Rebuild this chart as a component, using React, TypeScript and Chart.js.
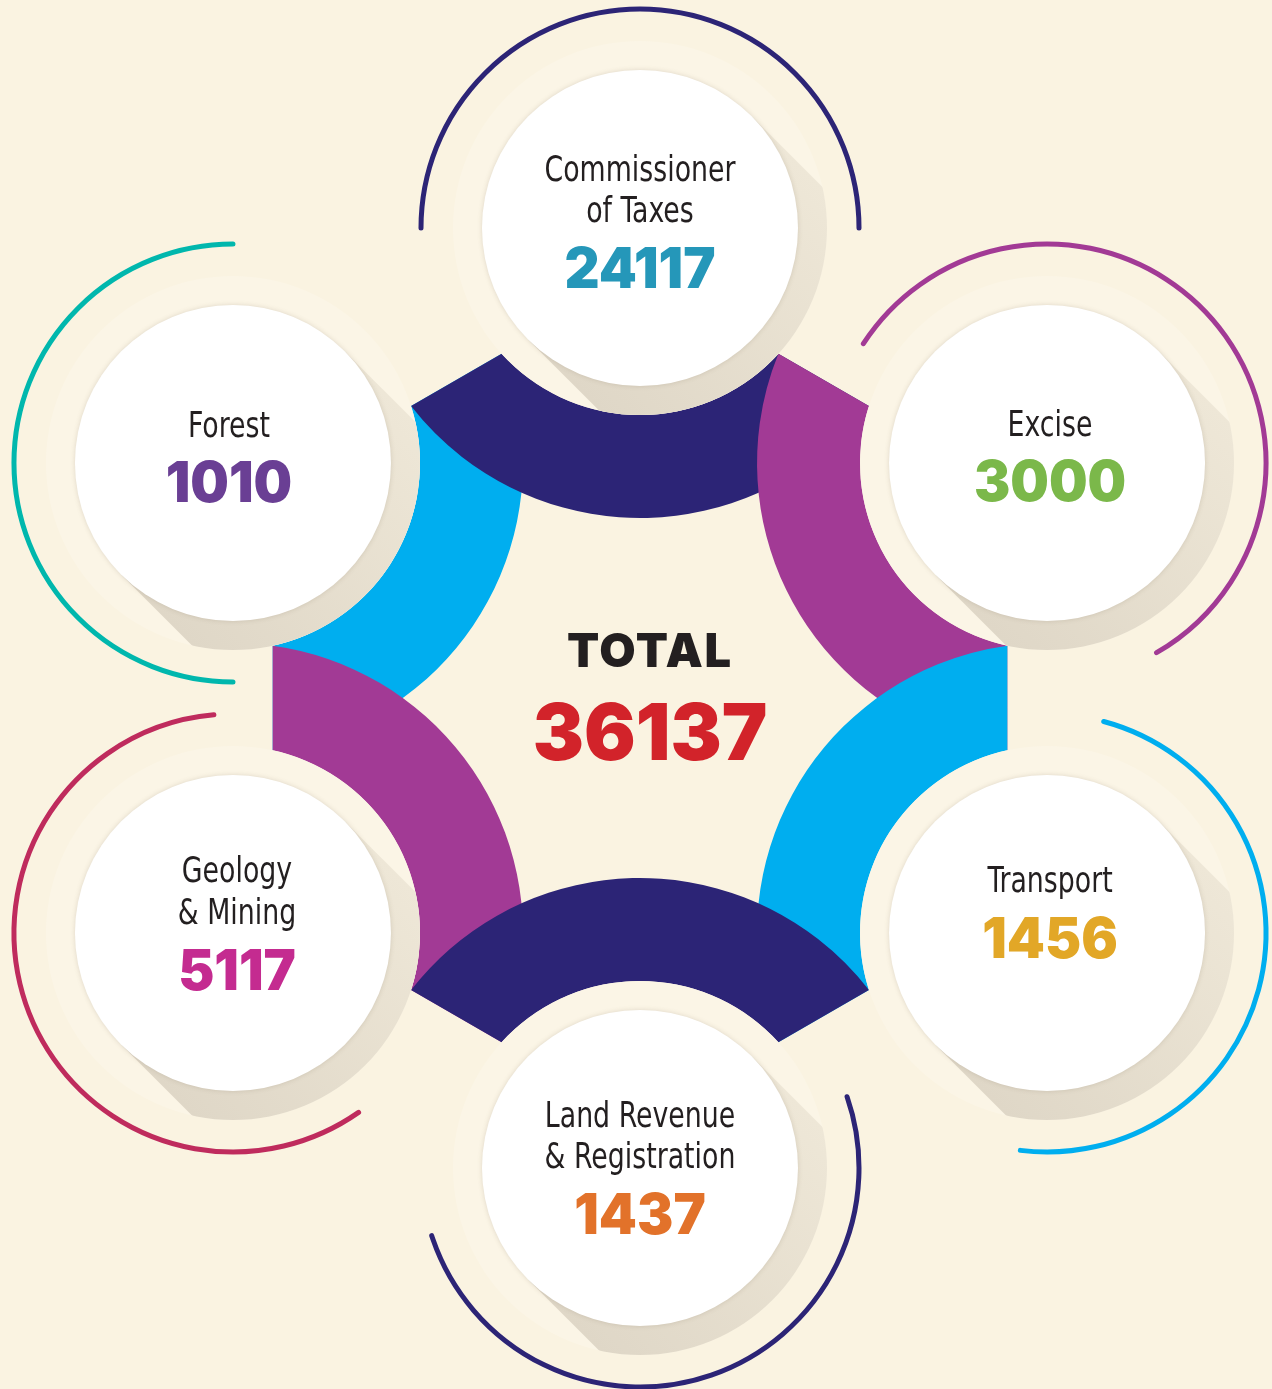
import { useEffect, useRef } from "react";
import { Chart, registerables } from "chart.js";

Chart.register(...registerables);

// ---------- data ----------
const categories = [
  "Commissioner of Taxes",
  "Excise",
  "Transport",
  "Land Revenue & Registration",
  "Geology & Mining",
  "Forest",
];
const labelLines = [
  ["Commissioner", "of Taxes"],
  ["Excise"],
  ["Transport"],
  ["Land Revenue", "& Registration"],
  ["Geology", "& Mining"],
  ["Forest"],
];
const values = [24117, 3000, 1456, 1437, 5117, 1010];
const totalTitle = "TOTAL";

// ---------- styles / layout ----------
const W = 1272;
const H = 1389;
const BG = "#FAF3E1";
const HALO = "#FBF5E6";
const valueColors = ["#2597B9", "#7BB84A", "#E2A727", "#E2722A", "#C42B90", "#6A3F94"];
const bandColors = ["#2C2476", "#A23A95", "#00AEEF", "#2C2476", "#A23A95", "#00AEEF"];
const ringColors = ["#2C2476", "#A23A95", "#00AEEF", "#2C2476", "#BF2B5D", "#00B7AD"];
const ringArcs = [
  [180, 360],
  [213, 420],
  [285, 457],
  [-19, 162],
  [55, 265],
  [90, 270],
];
// text offsets relative to each circle centre: dx, label baselines, value baseline
const textLayout = [
  { dx: 0, lines: [-47, -6], value: 60 },
  { dx: 3, lines: [-27], value: 38 },
  { dx: 3, lines: [-41], value: 25 },
  { dx: 0, lines: [-41, 0], value: 66 },
  { dx: 4, lines: [-51, -9], value: 57 },
  { dx: -4, lines: [-26], value: 39 },
];
const HEX_CENTER = { x: 640, y: 698 };
const HEX_RADIUS = 470;
const SAT_ANGLES = [-90, -30, 30, 90, 150, 210];
const CIRCLE_R = 158;
const BAND_IN = 187;
const BAND_OUT = 290;
const RING_R = 219;
const BAND_ORDER = [5, 0, 1, 2, 4, 3];

const LABEL_FONT = '35px "Liberation Sans Narrow", "DejaVu Sans Condensed", "Liberation Sans", sans-serif';
const NUM_FONT = (s: number) => `900 ${s}px Inter, Lato, "Open Sans", sans-serif`;

type P = { x: number; y: number };
const rad = (d: number) => (d * Math.PI) / 180;
const dist = (a: P, b: P) => Math.hypot(a.x - b.x, a.y - b.y);

function circleIntersect(a: P, ra: number, b: P, rb: number, toward: P): P {
  const dx = b.x - a.x;
  const dy = b.y - a.y;
  const d = Math.hypot(dx, dy);
  const l = (ra * ra - rb * rb + d * d) / (2 * d);
  const h = Math.sqrt(Math.max(0, ra * ra - l * l));
  const mx = a.x + (l * dx) / d;
  const my = a.y + (l * dy) / d;
  const p1 = { x: mx - (h * dy) / d, y: my + (h * dx) / d };
  const p2 = { x: mx + (h * dy) / d, y: my - (h * dx) / d };
  return dist(p1, toward) < dist(p2, toward) ? p1 : p2;
}

const satellitePoints = SAT_ANGLES.map((a) => ({
  x: HEX_CENTER.x + HEX_RADIUS * Math.cos(rad(a)),
  y: HEX_CENTER.y + HEX_RADIUS * Math.sin(rad(a)),
}));

function centres(chart: any): P[] {
  const meta = chart.getDatasetMeta(0);
  return meta.data.map((el: any) => ({ x: el.x, y: el.y }));
}

const infographicPlugin = {
  id: "infographic",
  beforeDatasetsDraw(chart: any) {
    const ctx: CanvasRenderingContext2D = chart.ctx;
    const xs = chart.scales.x;
    const ys = chart.scales.y;
    const pts = centres(chart);
    const hc = { x: xs.getPixelForValue(HEX_CENTER.x), y: ys.getPixelForValue(HEX_CENTER.y) };
    ctx.save();
    ctx.fillStyle = BG;
    ctx.fillRect(0, 0, chart.width, chart.height);

    // thick bands
    for (const i of BAND_ORDER) {
      const c = pts[i];
      const nx = pts[(i + 1) % 6];
      const pv = pts[(i + 5) % 6];
      const pn = circleIntersect(c, BAND_IN, nx, BAND_OUT, hc);
      const qn = circleIntersect(c, BAND_OUT, nx, BAND_IN, hc);
      const pp = circleIntersect(c, BAND_IN, pv, BAND_OUT, hc);
      const qp = circleIntersect(c, BAND_OUT, pv, BAND_IN, hc);
      const ang = (p: P) => Math.atan2(p.y - c.y, p.x - c.x);
      ctx.beginPath();
      ctx.arc(c.x, c.y, BAND_IN, ang(pp), ang(pn), true);
      ctx.lineTo(qn.x, qn.y);
      ctx.arc(c.x, c.y, BAND_OUT, ang(qn), ang(qp), false);
      ctx.closePath();
      ctx.fillStyle = bandColors[i];
      ctx.fill();
    }

    // halos and long shadows
    pts.forEach((c) => {
      ctx.save();
      ctx.beginPath();
      ctx.arc(c.x, c.y, BAND_IN, 0, Math.PI * 2);
      ctx.clip();
      ctx.fillStyle = HALO;
      ctx.fillRect(c.x - BAND_IN, c.y - BAND_IN, BAND_IN * 2, BAND_IN * 2);
      const k = Math.SQRT1_2;
      const r = CIRCLE_R;
      const L = 600;
      const g = ctx.createLinearGradient(c.x - r * k, c.y + r * k, c.x + r * k, c.y - r * k);
      g.addColorStop(0, "#DFD7C7");
      g.addColorStop(1, "#EEE7D7");
      ctx.fillStyle = g;
      ctx.beginPath();
      ctx.moveTo(c.x + r * k, c.y - r * k);
      ctx.lineTo(c.x + r * k + L * k, c.y - r * k + L * k);
      ctx.lineTo(c.x - r * k + L * k, c.y + r * k + L * k);
      ctx.lineTo(c.x - r * k, c.y + r * k);
      ctx.closePath();
      ctx.fill();
      ctx.restore();
    });

    // thin outer rings
    pts.forEach((c, i) => {
      ctx.beginPath();
      ctx.arc(c.x, c.y, RING_R, rad(ringArcs[i][0]), rad(ringArcs[i][1]), false);
      ctx.strokeStyle = ringColors[i];
      ctx.lineWidth = 5;
      ctx.lineCap = "round";
      ctx.stroke();
    });
    ctx.restore();
  },
  beforeDatasetDraw(chart: any) {
    const ctx = chart.ctx;
    ctx.shadowColor = "rgba(110, 95, 70, 0.2)";
    ctx.shadowBlur = 5;
  },
  afterDatasetDraw(chart: any) {
    const ctx = chart.ctx;
    ctx.shadowColor = "rgba(0,0,0,0)";
    ctx.shadowBlur = 0;
  },
  afterDatasetsDraw(chart: any) {
    const ctx: CanvasRenderingContext2D = chart.ctx;
    const xs = chart.scales.x;
    const ys = chart.scales.y;
    const pts = centres(chart);
    const hc = { x: xs.getPixelForValue(HEX_CENTER.x), y: ys.getPixelForValue(HEX_CENTER.y) };
    ctx.save();
    ctx.textAlign = "center";
    ctx.textBaseline = "alphabetic";

    ctx.font = LABEL_FONT;
    const labelScale = Math.min(1.25, Math.max(0.8, 191 / ctx.measureText("Commissioner").width));
    ctx.font = NUM_FONT(56);
    const numScale = Math.min(1.3, Math.max(0.8, 151 / ctx.measureText("24117").width));

    const draw = (text: string, x: number, y: number, font: string, color: string, sx: number) => {
      ctx.save();
      ctx.font = font;
      ctx.fillStyle = color;
      ctx.translate(x, y);
      ctx.scale(sx, 1);
      ctx.fillText(text, 0, 0);
      ctx.restore();
    };

    pts.forEach((c, i) => {
      const lay = textLayout[i];
      labelLines[i].forEach((line, j) => {
        draw(line, c.x + lay.dx, c.y + lay.lines[j], LABEL_FONT, "#231F20", labelScale);
      });
      draw(String(values[i]), c.x + lay.dx, c.y + lay.value, NUM_FONT(56), valueColors[i], numScale);
    });

    // centre total
    const total = values.reduce((a, b) => a + b, 0);
    ctx.font = NUM_FONT(47);
    const base = ctx.measureText(totalTitle).width;
    const ls = Math.max(0, (164 - base) / (totalTitle.length - 1));
    (ctx as any).letterSpacing = `${ls}px`;
    ctx.fillStyle = "#231F20";
    ctx.textAlign = "left";
    const wt = ctx.measureText(totalTitle).width - ls;
    ctx.fillText(totalTitle, hc.x + 9 - wt / 2, hc.y - 31);
    (ctx as any).letterSpacing = "0px";
    ctx.textAlign = "center";
    draw(String(total), hc.x + 10, hc.y + 62, NUM_FONT(79), "#D2232A", numScale);
    ctx.restore();
  },
};

export default function App() {
  const ref = useRef<HTMLCanvasElement | null>(null);
  useEffect(() => {
    document.body.style.margin = "0";
    document.body.style.background = BG;
    document.body.style.overflow = "hidden";
    const chart = new Chart(ref.current as HTMLCanvasElement, {
      type: "scatter",
      data: {
        labels: categories,
        datasets: [
          {
            label: "Revenue",
            data: satellitePoints,
            pointRadius: CIRCLE_R,
            pointHoverRadius: CIRCLE_R,
            pointBackgroundColor: "#FFFFFF",
            pointBorderWidth: 0,
            pointBorderColor: "#FFFFFF",
            clip: false as any,
          },
        ],
      },
      options: {
        animation: false,
        responsive: false,
        devicePixelRatio: 1,
        events: [],
        layout: { padding: 0, autoPadding: false },
        plugins: { legend: { display: false }, tooltip: { enabled: false } },
        scales: {
          x: { type: "linear", min: 0, max: W, display: false },
          y: { type: "linear", min: 0, max: H, reverse: true, display: false },
        },
      },
      plugins: [infographicPlugin],
    });
    return () => chart.destroy();
  }, []);
  return (
    <div style={{ width: W, height: H, background: BG, position: "absolute", left: 0, top: 0 }}>
      <canvas ref={ref} width={W} height={H} style={{ display: "block" }} />
    </div>
  );
}
